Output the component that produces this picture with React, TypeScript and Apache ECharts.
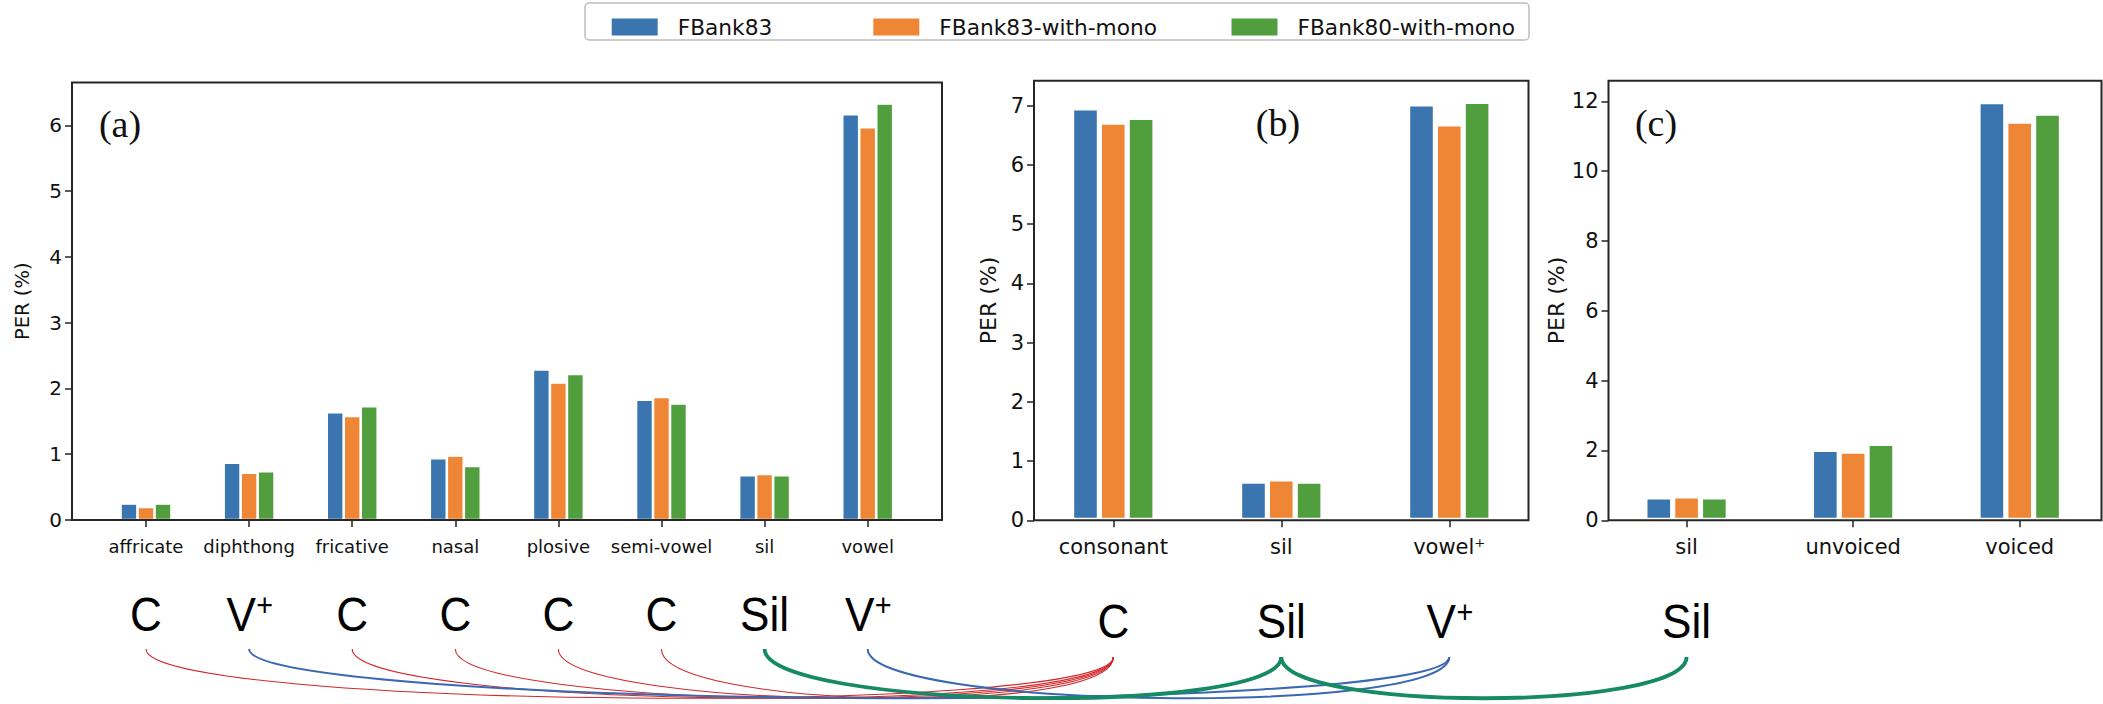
import React, { useEffect, useRef } from 'react';
import * as echarts from 'echarts';

// ---------------- data ----------------
const seriesNames = ['FBank83', 'FBank83-with-mono', 'FBank80-with-mono'];
const seriesColors = ['#3A75AF', '#EF8636', '#519E3E'];

const catsA = ['affricate', 'diphthong', 'fricative', 'nasal', 'plosive', 'semi-vowel', 'sil', 'vowel'];
const fbank83A = [0.25, 0.87, 1.64, 0.94, 2.29, 1.83, 0.68, 6.17];
const fbank83MonoA = [0.2, 0.72, 1.58, 0.98, 2.09, 1.87, 0.7, 5.97];
const fbank80MonoA = [0.25, 0.74, 1.73, 0.82, 2.22, 1.77, 0.68, 6.33];

const catsB = ['consonant', 'sil', 'vowel\u207A'];
const fbank83B = [6.96, 0.66, 7.03];
const fbank83MonoB = [6.72, 0.7, 6.69];
const fbank80MonoB = [6.8, 0.66, 7.07];

const catsC = ['sil', 'unvoiced', 'voiced'];
const fbank83C = [0.67, 2.03, 11.99];
const fbank83MonoC = [0.7, 1.98, 11.43];
const fbank80MonoC = [0.67, 2.2, 11.66];

const yTicksA = [0, 1, 2, 3, 4, 5, 6];
const yTicksB = [0, 1, 2, 3, 4, 5, 6, 7];
const yTicksC = [0, 2, 4, 6, 8, 10, 12];
const yMaxA = 6.65;
const yMaxB = 7.42;
const yMaxC = 12.59;

const yAxisName = 'PER (%)';
const panelTags = ['(a)', '(b)', '(c)'];

// phone-class labels drawn under each category (panel index, category index, label)
const phoneLabelsA = ['C', 'V+', 'C', 'C', 'C', 'C', 'Sil', 'V+'];
const phoneLabelsB = ['C', 'Sil', 'V+'];
const phoneLabelsC = ['Sil', '', ''];

// links: [fromPanel, fromIndex, toPanel, toIndex, kind]
const links: [number, number, number, number, string][] = [
  [0, 0, 1, 0, 'C'],
  [0, 2, 1, 0, 'C'],
  [0, 3, 1, 0, 'C'],
  [0, 4, 1, 0, 'C'],
  [0, 5, 1, 0, 'C'],
  [0, 1, 1, 2, 'V'],
  [0, 7, 1, 2, 'V'],
  [0, 6, 1, 1, 'S'],
  [1, 1, 2, 0, 'S'],
];

// ---------------- layout / style ----------------
const FONT = 'DejaVu Sans';
const cats = [catsA, catsB, catsC];
const values = [
  [fbank83A, fbank83MonoA, fbank80MonoA],
  [fbank83B, fbank83MonoB, fbank80MonoB],
  [fbank83C, fbank83MonoC, fbank80MonoC],
];
const yTicks = [yTicksA, yTicksB, yTicksC];
const yMax = [yMaxA, yMaxB, yMaxC];

const layout = [
  { frame: [72, 82.5, 942, 520], first: 146, step: 103.1, barW: 17, border: 1.3, xFont: 18, yFont: 20, nameFont: 19.5, nameGap: 40, xMargin: 17, tag: [120, 124] },
  { frame: [1034, 80.7, 1528.5, 520.3], first: 1113.3, step: 168, barW: 27.8, border: 2.6, xFont: 21, yFont: 21, nameFont: 22, nameGap: 35, xMargin: 16, tag: [1278, 123] },
  { frame: [1608.5, 80.7, 2101.5, 520.3], first: 1687.3, step: 168, barW: 27.8, border: 2.6, xFont: 21, yFont: 21, nameFont: 22, nameGap: 35, xMargin: 16, tag: [1656, 123] },
];
const legendLefts = [606.7, 868.3, 1226.5];
const linkStyle: Record<string, { stroke: string; lineWidth: number }> = {
  C: { stroke: '#D2282B', lineWidth: 1.1 },
  V: { stroke: '#3A68B2', lineWidth: 2 },
  S: { stroke: '#168A62', lineWidth: 3.8 },
};
const rowY = [
  { text: 614, curve: 649 },
  { text: 621, curve: 657 },
  { text: 621, curve: 657 },
];

function buildOption() {
  const grid = layout.map((L, i) => ({
    left: L.first - L.step / 2,
    top: L.frame[1],
    width: L.step * cats[i].length,
    height: L.frame[3] - L.frame[1],
  }));
  const tickLine = { color: '#222', width: 1.5 };
  const xAxis = layout.map((L, i) => ({
    type: 'category',
    gridIndex: i,
    data: cats[i],
    boundaryGap: true,
    axisLine: { show: false },
    axisTick: { show: true, alignWithLabel: true, length: 7, lineStyle: tickLine },
    axisLabel: { fontFamily: FONT, fontSize: L.xFont, color: '#111', margin: L.xMargin, interval: 0 },
    splitLine: { show: false },
  }));
  const yAxis = layout.map((L, i) => ({
    type: 'value',
    gridIndex: i,
    min: 0,
    max: yMax[i],
    offset: grid[i].left - L.frame[0],
    axisLine: { show: false },
    axisTick: { show: true, length: 7, lineStyle: tickLine, customValues: yTicks[i] },
    axisLabel: { fontFamily: FONT, fontSize: L.yFont, color: '#111', margin: 10, customValues: yTicks[i] },
    splitLine: { show: false },
    name: yAxisName,
    nameLocation: 'middle',
    nameGap: L.nameGap,
    nameTextStyle: { fontFamily: FONT, fontSize: L.nameFont, color: '#111' },
  }));
  const series: any[] = [];
  layout.forEach((L, pi) => {
    seriesNames.forEach((name, si) => {
      series.push({
        type: 'bar',
        name,
        xAxisIndex: pi,
        yAxisIndex: pi,
        data: values[pi][si],
        barWidth: L.barW,
        barGap: '0%',
        itemStyle: { color: seriesColors[si], borderColor: '#ffffff', borderWidth: L.border },
        emphasis: { disabled: true },
        z: 2,
      });
    });
  });
  const legend = seriesNames.map((n, i) => ({
    data: [n],
    left: legendLefts[i],
    top: 11,
    icon: 'rect',
    itemWidth: 46,
    itemHeight: 17,
    itemStyle: { borderWidth: 0 },
    selectedMode: false,
    textStyle: { fontFamily: FONT, fontSize: 21.7, color: '#111', padding: [0, 0, 0, 15] },
  }));
  return {
    animation: false,
    backgroundColor: '#ffffff',
    color: seriesColors,
    legend,
    grid,
    xAxis,
    yAxis,
    series,
  };
}

function buildGraphics(chart: any) {
  const g: any[] = [];
  // legend frame
  g.push({
    type: 'rect',
    z: 1,
    silent: true,
    shape: { x: 585, y: 3, width: 944, height: 37, r: 4 },
    style: { fill: '#ffffff', stroke: '#bdbdbd', lineWidth: 1.5 },
  });
  // axes frames and panel tags
  layout.forEach((L, i) => {
    g.push({
      type: 'rect',
      z: 100,
      silent: true,
      shape: { x: L.frame[0], y: L.frame[1], width: L.frame[2] - L.frame[0], height: L.frame[3] - L.frame[1] },
      style: { fill: 'none', stroke: '#262626', lineWidth: 2 },
    });
    g.push({
      type: 'text',
      z: 100,
      silent: true,
      x: L.tag[0],
      y: L.tag[1],
      style: {
        text: panelTags[i],
        font: '38px "Liberation Serif", serif',
        fill: '#111',
        textAlign: 'center',
        textVerticalAlign: 'middle',
      },
    });
  });
  const px = (panel: number, idx: number) => chart.convertToPixel({ xAxisIndex: panel }, idx) as number;
  // curves first (below texts)
  const order = ['C', 'V', 'S'];
  order.forEach((kind) => {
    links
      .filter((l) => l[4] === kind)
      .forEach((l) => {
        const x1 = px(l[0], l[1]);
        const y1 = rowY[l[0]].curve;
        const x2 = px(l[2], l[3]);
        const y2 = rowY[l[2]].curve;
        const k = l[0] === 1 && l[2] === 2 ? 55 : 60;
        g.push({
          type: 'bezierCurve',
          z: 5,
          silent: true,
          shape: { x1, y1, x2, y2, cpx1: x1, cpy1: y1 + k, cpx2: x2, cpy2: y2 + k },
          style: { fill: 'none', stroke: linkStyle[kind].stroke, lineWidth: linkStyle[kind].lineWidth },
        });
      });
  });
  // phone-class labels
  const labelSets = [phoneLabelsA, phoneLabelsB, phoneLabelsC];
  labelSets.forEach((set, pi) => {
    set.forEach((lab, ci) => {
      if (!lab) return;
      const cx = px(pi, ci);
      const cy = rowY[pi].text;
      if (lab === 'V+') {
        g.push({
          type: 'text', z: 6, silent: true, x: cx - 8, y: cy, scaleX: 0.9,
          style: { text: 'V', font: '49px "Liberation Sans", Arial, sans-serif', fill: '#000', textAlign: 'center', textVerticalAlign: 'middle' },
        });
        g.push({
          type: 'text', z: 6, silent: true, x: cx + 15.5, y: cy - 10, scaleX: 0.9,
          style: { text: '+', font: '32px "Liberation Sans", Arial, sans-serif', fill: '#000', textAlign: 'center', textVerticalAlign: 'middle' },
        });
      } else {
        g.push({
          type: 'text', z: 6, silent: true, x: cx, y: cy, scaleX: 0.9,
          style: { text: lab, font: '49px "Liberation Sans", Arial, sans-serif', fill: '#000', textAlign: 'center', textVerticalAlign: 'middle' },
        });
      }
    });
  });
  return g;
}

export default function App() {
  const ref = useRef<HTMLDivElement>(null);
  useEffect(() => {
    const chart = echarts.init(ref.current as HTMLDivElement, null, { renderer: 'svg' });
    chart.setOption(buildOption() as any);
    chart.setOption({ graphic: buildGraphics(chart) } as any);
    return () => chart.dispose();
  }, []);
  return <div ref={ref} style={{ position: 'absolute', left: 0, top: 0, width: 2103, height: 704 }} />;
}
